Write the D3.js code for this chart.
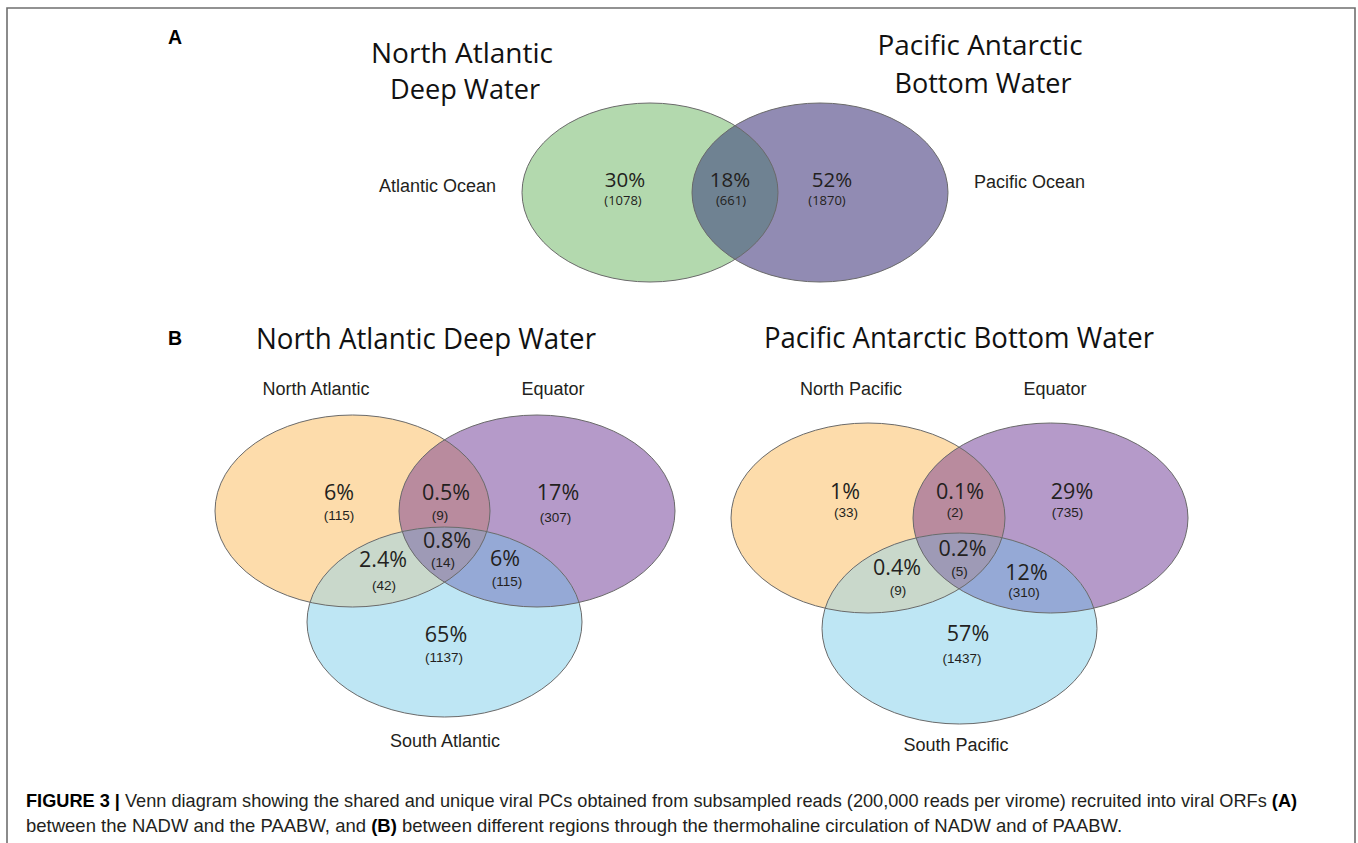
<!DOCTYPE html>
<html>
<head>
<meta charset="utf-8">
<script src="https://cdn.jsdelivr.net/npm/d3@7"></script>
<style>
  html, body { margin: 0; padding: 0; background: #fff; }
  svg { display: block; }
</style>
</head>
<body>
<svg id="fig" width="1358" height="843"></svg>
<script>
// ---- Panel A: NADW vs PAABW ----
const panelATitles = [["North Atlantic", "Deep Water"], ["Pacific Antarctic", "Bottom Water"]];
const panelASets = ["Atlantic Ocean", "Pacific Ocean"];
const panelAPercent = [30, 18, 52];          // Atlantic only, shared, Pacific only
const panelACounts = [1078, 661, 1870];

// ---- Panel B: regions along each water mass ----
// region order: 1 only, 1∩2, 2 only, 1∩2∩3, 1∩3, 2∩3, 3 only
const nadwTitle = "North Atlantic Deep Water";
const nadwSets = ["North Atlantic", "Equator", "South Atlantic"];
const nadwPercent = [6, 0.5, 17, 0.8, 2.4, 6, 65];
const nadwCounts = [115, 9, 307, 14, 42, 115, 1137];

const paabwTitle = "Pacific Antarctic Bottom Water";
const paabwSets = ["North Pacific", "Equator", "South Pacific"];
const paabwPercent = [1, 0.1, 29, 0.2, 0.4, 12, 57];
const paabwCounts = [33, 2, 735, 5, 9, 310, 1437];

const captionLine1 = [
  { t: "FIGURE 3 | ", b: true },
  { t: "Venn diagram showing the shared and unique viral PCs obtained from subsampled reads (200,000 reads per virome) recruited into viral ORFs ", b: false },
  { t: "(A)", b: true }
];
const captionLine2 = [
  { t: "between the NADW and the PAABW, and ", b: false },
  { t: "(B)", b: true },
  { t: " between different regions through the thermohaline circulation of NADW and of PAABW.", b: false }
];

// ---- styling ----
const INK = "#231f20";
const HUMANIST = "'Open Sans', 'Noto Sans', sans-serif";
const ARIAL = "'Liberation Sans', Arial, sans-serif";
const OUTLINE = "#6a6a6a";
const pctFmt = d => d + "%";
const cntFmt = d => "(" + d + ")";

const svg = d3.select("#fig");
svg.append("rect").attr("width", 1358).attr("height", 843).attr("fill", "#fff");

// figure frame (open at the bottom edge of the page)
svg.append("path")
  .attr("d", "M7,850 L7,8 L1355,8 L1355,850")
  .attr("fill", "none").attr("stroke", "#6f6f6f").attr("stroke-width", 1.6);

// fit text to a given width
function fit(sel, w) {
  sel.attr("textLength", w).attr("lengthAdjust", "spacingAndGlyphs");
  return sel;
}

let clipId = 0;
function addClip(e) {
  const id = "clip" + (clipId++);
  svg.append("clipPath").attr("id", id)
    .append("ellipse").attr("cx", e.cx).attr("cy", e.cy).attr("rx", e.rx).attr("ry", e.ry);
  return "url(#" + id + ")";
}
function ellipse(g, e, fill) {
  return g.append("ellipse").attr("cx", e.cx).attr("cy", e.cy)
    .attr("rx", e.rx).attr("ry", e.ry).attr("fill", fill);
}

// ================= Panel A =================
svg.append("text").attr("x", 175).attr("y", 44).attr("text-anchor", "middle")
  .attr("font-family", ARIAL).attr("font-weight", "bold").attr("font-size", 19.5)
  .attr("fill", "#000").text("A");

const aLayout = {
  ellipses: [
    { cx: 650, cy: 192.5, rx: 128, ry: 89.5 },
    { cx: 820, cy: 192.5, rx: 128, ry: 89.5 }
  ],
  fills: ["#b3d9ae", "#918bb3"],
  overlap: "#6f8292",
  titles: [
    [{ x: 462, y: 63, w: 182 }, { x: 465, y: 99, w: 150 }],
    [{ x: 980, y: 55, w: 205 }, { x: 983, y: 93, w: 177 }]
  ],
  setLabels: [{ x: 379, y: 192, anchor: "start" }, { x: 974, y: 188, anchor: "start" }],
  pct: [{ x: 625, y: 187 }, { x: 730, y: 187 }, { x: 832, y: 187 }],
  cnt: [{ x: 623, y: 205 }, { x: 731, y: 205 }, { x: 827, y: 205 }]
};

(function drawA() {
  const g = svg.append("g");
  const [e1, e2] = aLayout.ellipses;
  ellipse(g, e1, aLayout.fills[0]);
  ellipse(g, e2, aLayout.fills[1]);
  ellipse(g.append("g").attr("clip-path", addClip(e1)), e2, aLayout.overlap);
  aLayout.ellipses.forEach(e => ellipse(g, e, "none").attr("stroke", OUTLINE).attr("stroke-width", 1));

  panelATitles.forEach((lines, i) => {
    lines.forEach((line, j) => {
      const p = aLayout.titles[i][j];
      fit(svg.append("text").attr("x", p.x - p.w / 2).attr("y", p.y)
        .attr("font-family", HUMANIST).attr("font-size", 28).attr("fill", "#111")
        .text(line), p.w);
    });
  });
  panelASets.forEach((s, i) => {
    const p = aLayout.setLabels[i];
    svg.append("text").attr("x", p.x).attr("y", p.y).attr("text-anchor", p.anchor)
      .attr("font-family", ARIAL).attr("font-size", 18).attr("fill", INK).text(s);
  });
  panelAPercent.forEach((v, i) => {
    const p = aLayout.pct[i];
    svg.append("text").attr("x", p.x).attr("y", p.y).attr("text-anchor", "middle")
      .attr("font-family", HUMANIST).attr("font-size", 20.5).attr("fill", INK).text(pctFmt(v));
  });
  panelACounts.forEach((v, i) => {
    const p = aLayout.cnt[i];
    svg.append("text").attr("x", p.x).attr("y", p.y).attr("text-anchor", "middle")
      .attr("font-family", HUMANIST).attr("font-size", 13).attr("fill", INK).text(cntFmt(v));
  });
})();

// ================= Panel B =================
svg.append("text").attr("x", 175).attr("y", 345).attr("text-anchor", "middle")
  .attr("font-family", ARIAL).attr("font-weight", "bold").attr("font-size", 19.5)
  .attr("fill", "#000").text("B");

const bFills = {
  one: "#fddcab", two: "#b59ac9", three: "#bee6f4",
  oneTwo: "#b98b9e", oneThree: "#c9d8cb", twoThree: "#95a9d6", all: "#9e9ab6"
};

const bLayouts = [
  {
    ellipses: [
      { cx: 352.5, cy: 511, rx: 137.5, ry: 96 },
      { cx: 537, cy: 511, rx: 138, ry: 96 },
      { cx: 444.5, cy: 622, rx: 137.5, ry: 95 }
    ],
    title: { x: 426, y: 349, w: 340 },
    setLabels: [{ x: 316, y: 395 }, { x: 553, y: 395 }, { x: 445, y: 747 }],
    pct: [{ x: 339, y: 500 }, { x: 446, y: 500 }, { x: 558, y: 500 }, { x: 447, y: 548 },
          { x: 383, y: 567 }, { x: 505, y: 566 }, { x: 446, y: 642 }],
    cnt: [{ x: 339, y: 520 }, { x: 440, y: 520 }, { x: 555.5, y: 522 }, { x: 443, y: 567 },
          { x: 384, y: 590 }, { x: 507, y: 586 }, { x: 444, y: 662 }]
  },
  {
    ellipses: [
      { cx: 868, cy: 518, rx: 137, ry: 95 },
      { cx: 1050.5, cy: 518, rx: 137.5, ry: 95 },
      { cx: 959.5, cy: 628.5, rx: 137.5, ry: 95.5 }
    ],
    title: { x: 959, y: 348, w: 390 },
    setLabels: [{ x: 851, y: 395 }, { x: 1055, y: 395 }, { x: 956, y: 751 }],
    pct: [{ x: 845, y: 499 }, { x: 960, y: 499 }, { x: 1072, y: 499 }, { x: 962.5, y: 556 },
          { x: 897, y: 575 }, { x: 1026.5, y: 580 }, { x: 968, y: 641 }],
    cnt: [{ x: 846, y: 517 }, { x: 955, y: 517 }, { x: 1067.5, y: 517 }, { x: 959.5, y: 576 },
          { x: 898, y: 595 }, { x: 1024, y: 597 }, { x: 962, y: 663 }]
  }
];

function drawThree(layout, title, sets, pcts, counts) {
  const g = svg.append("g");
  const [e1, e2, e3] = layout.ellipses;
  ellipse(g, e1, bFills.one);
  ellipse(g, e2, bFills.two);
  ellipse(g, e3, bFills.three);
  const c1 = addClip(e1), c2 = addClip(e2);
  ellipse(g.append("g").attr("clip-path", c1), e2, bFills.oneTwo);
  ellipse(g.append("g").attr("clip-path", c1), e3, bFills.oneThree);
  ellipse(g.append("g").attr("clip-path", c2), e3, bFills.twoThree);
  ellipse(g.append("g").attr("clip-path", c1).append("g").attr("clip-path", c2), e3, bFills.all);
  layout.ellipses.forEach(e => ellipse(g, e, "none").attr("stroke", OUTLINE).attr("stroke-width", 1));

  const t = layout.title;
  fit(svg.append("text").attr("x", t.x - t.w / 2).attr("y", t.y)
    .attr("font-family", HUMANIST).attr("font-size", 30).attr("fill", "#111").text(title), t.w);

  sets.forEach((s, i) => {
    const p = layout.setLabels[i];
    svg.append("text").attr("x", p.x).attr("y", p.y).attr("text-anchor", "middle")
      .attr("font-family", ARIAL).attr("font-size", 18).attr("fill", INK).text(s);
  });
  pcts.forEach((v, i) => {
    const p = layout.pct[i];
    svg.append("text").attr("x", p.x).attr("y", p.y).attr("text-anchor", "middle")
      .attr("font-family", HUMANIST).attr("font-size", 21.5).attr("fill", INK).text(pctFmt(v));
  });
  counts.forEach((v, i) => {
    const p = layout.cnt[i];
    svg.append("text").attr("x", p.x).attr("y", p.y).attr("text-anchor", "middle")
      .attr("font-family", ARIAL).attr("font-size", 13.5).attr("fill", INK).text(cntFmt(v));
  });
}

drawThree(bLayouts[0], nadwTitle, nadwSets, nadwPercent, nadwCounts);
drawThree(bLayouts[1], paabwTitle, paabwSets, paabwPercent, paabwCounts);

// ================= Caption (condensed face, squeezed to the column width) =================
const capLines = [
  { parts: captionLine1, x: 26, y: 807, w: 1272 },
  { parts: captionLine2, x: 26, y: 832, w: 1097 }
];
capLines.forEach(line => {
  const txt = svg.append("text").attr("x", line.x).attr("y", line.y)
    .attr("font-family", "'Liberation Sans Narrow', 'Liberation Sans', Arial, sans-serif")
    .attr("font-size", 17.5).attr("fill", INK);
  line.parts.forEach(p => {
    txt.append("tspan").attr("font-weight", p.b ? "bold" : "normal")
      .attr("fill", p.b ? "#000" : INK).text(p.t);
  });
  const natural = txt.node().getComputedTextLength();
  const sx = line.w / natural;
  txt.attr("transform", `translate(${line.x},0) scale(${sx},1) translate(${-line.x},0)`);
});
</script>
</body>
</html>
